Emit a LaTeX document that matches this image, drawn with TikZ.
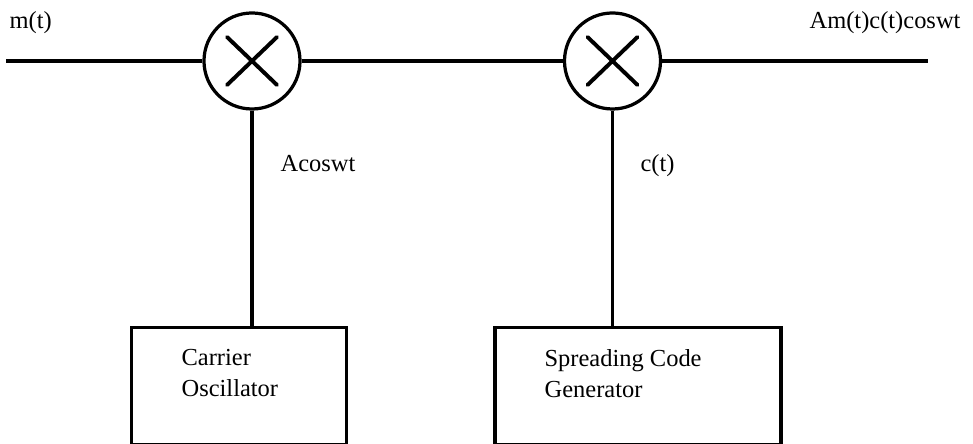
\documentclass[tikz,border=0pt]{standalone}
\usepackage{fontspec}
\setmainfont{Liberation Serif}
\usetikzlibrary{positioning}

\begin{document}
\begin{tikzpicture}[x=0.025cm, y=0.025cm, line width=2.3pt,
        mixer/.style={draw, circle, inner sep=0pt, minimum size=2.4cm,
          path picture={\draw[line width=2.8pt, line cap=round]
            ([shift={(-25,-24)}]path picture bounding box.center) -- ([shift={(25,24)}]path picture bounding box.center)
            ([shift={(-25,24)}]path picture bounding box.center) -- ([shift={(25,-24)}]path picture bounding box.center);}},
        block/.style={draw, rectangle, inner sep=0pt, minimum height=2.9375cm},
        lbl/.style={inner sep=0pt, font=\fontsize{17.4}{22.7}\selectfont}]
      \useasboundingbox (0,0) rectangle (973,444);
      % Multiplicadores (portadora y codigo)
      \node[mixer] (mix1) at (252,383) {};
      \node[mixer] (mix2) at (612.5,383) {};
      % Bloques generadores
      \node[block, minimum width=5.375cm] (osc) at (239,57.75) {};
      \node[block, minimum width=7.15cm] (gen) at (638,57.75) {};
      % Linea de senal
      \coordinate (in) at (6,383);
      \coordinate (out) at (928,383);
      \draw (in) -- (mix1) (mix1) -- (mix2) (mix2) -- (out);
      % Conexiones verticales
      \draw (mix1) -- (mix1 |- osc.north);
      \draw (mix2) -- (mix2 |- gen.north);
      % Etiquetas
      \node[lbl, anchor=base west] (msg) at (8,415) {m(t)};
      \node[lbl, anchor=base west] (tx) at (808,415) {Am(t)c(t)coswt};
      \node[lbl, anchor=base west] (carr) at (279,272) {Acoswt};
      \node[lbl, anchor=base west] (code) at (639,272) {c(t)};
      % (base = ultima linea)
      \node[lbl, anchor=base west, align=left] (oscTxt) at (180,47) {Carrier\\Oscillator};
      \node[lbl, anchor=base west, align=left] (genTxt) at (543,46) {Spreading Code\\Generator};
    \end{tikzpicture}
\end{document}
